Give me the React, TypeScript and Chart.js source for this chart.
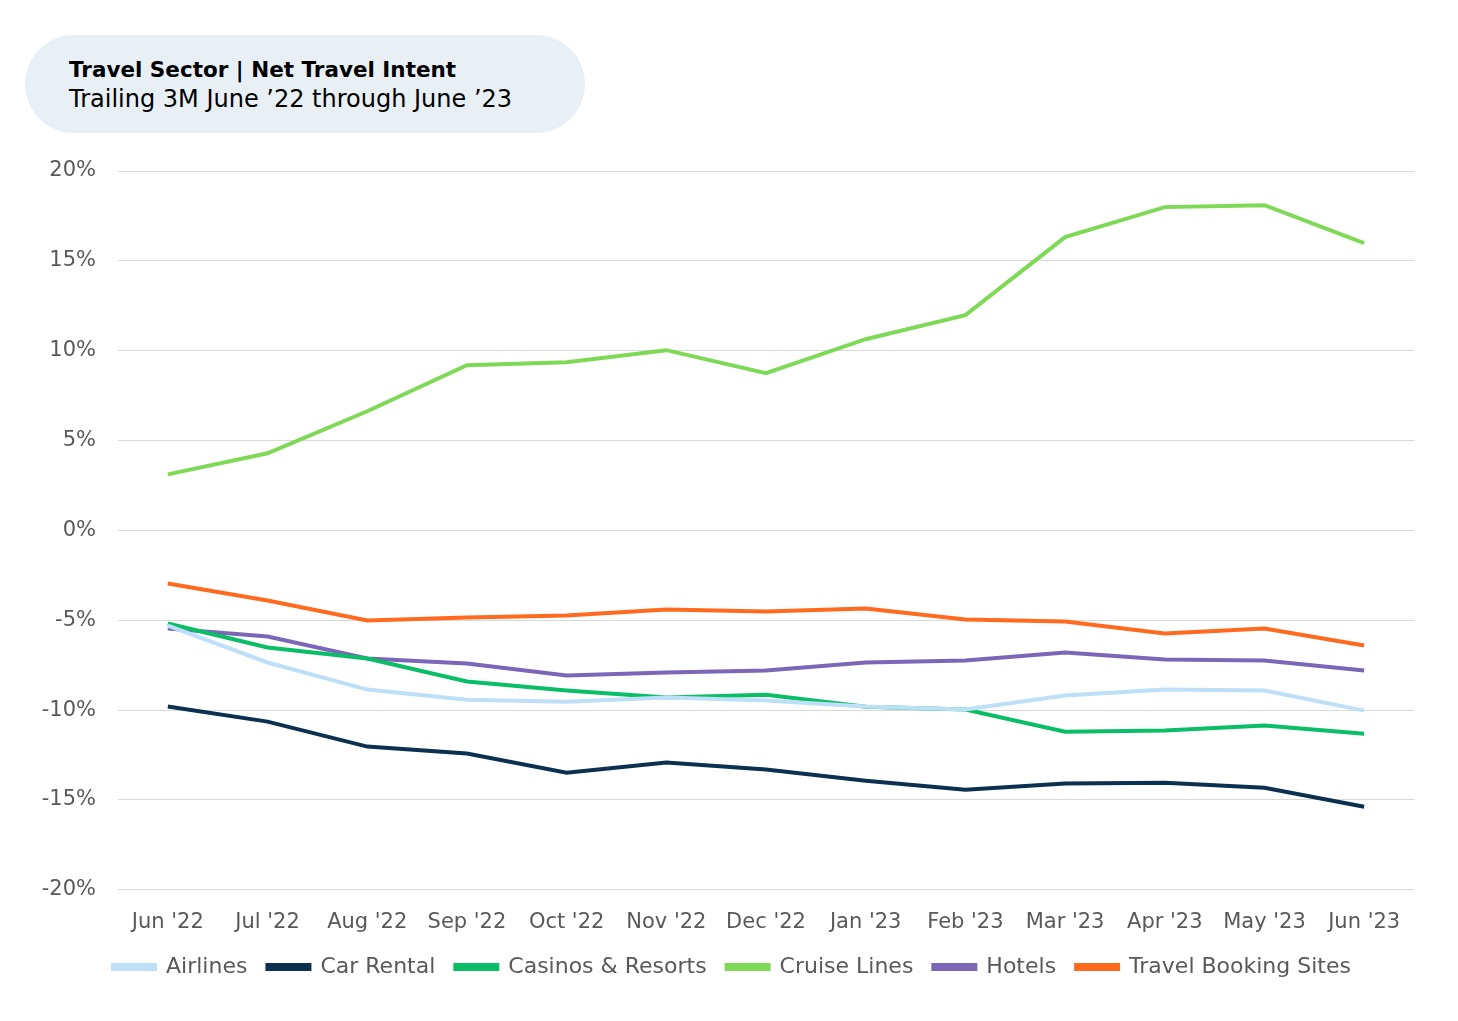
import React, { useEffect, useRef } from "react";
import { Chart, registerables } from "chart.js";

Chart.register(...registerables);

const categories = ["Jun '22", "Jul '22", "Aug '22", "Sep '22", "Oct '22", "Nov '22", "Dec '22", "Jan '23", "Feb '23", "Mar '23", "Apr '23", "May '23", "Jun '23"];

const airlines = [-5.3, -7.35, -8.86, -9.42, -9.53, -9.3, -9.47, -9.8, -9.97, -9.19, -8.86, -8.91, -10.03];
const carRental = [-9.8, -10.64, -12.03, -12.42, -13.48, -12.92, -13.31, -13.93, -14.43, -14.09, -14.04, -14.32, -15.38];
const casinos = [-5.18, -6.52, -7.13, -8.41, -8.91, -9.3, -9.14, -9.81, -9.97, -11.2, -11.14, -10.86, -11.31];
const cruise = [3.12, 4.29, 6.63, 9.19, 9.36, 10.03, 8.75, 10.64, 11.98, 16.32, 17.99, 18.1, 15.99];
const hotels = [-5.46, -5.9, -7.13, -7.41, -8.08, -7.91, -7.8, -7.35, -7.24, -6.8, -7.19, -7.24, -7.8];
const travelBooking = [-2.95, -3.9, -5.01, -4.85, -4.74, -4.4, -4.51, -4.35, -4.96, -5.07, -5.74, -5.46, -6.41];

const seriesNames = ["Airlines", "Car Rental", "Casinos & Resorts", "Cruise Lines", "Hotels", "Travel Booking Sites"];
const seriesColors = ["#bddff8", "#0c3050", "#0abd67", "#7ed957", "#7b66b8", "#ff6a1f"];

const titleText = "Travel Sector | Net Travel Intent";
const subtitleText = "Trailing 3M June \u201922 through June \u201923";

export default function App() {
  const canvasRef = useRef<HTMLCanvasElement | null>(null);

  useEffect(() => {
    const ctx = canvasRef.current;
    if (!ctx) return;
    const values = [airlines, carRental, casinos, cruise, hotels, travelBooking];
    const chart = new Chart(ctx, {
      type: "line",
      data: {
        labels: categories,
        datasets: values.map((v, i) => ({
          label: seriesNames[i],
          data: v,
          borderColor: seriesColors[i],
          backgroundColor: seriesColors[i],
          borderWidth: 4,
          pointRadius: 0,
          tension: 0,
          fill: false,
          yAxisID: "y",
        })),
      },
      options: {
        responsive: false,
        animation: false,
        layout: { padding: { top: 171, right: 24, left: 30, bottom: 33 } },
        plugins: {
          title: { display: false },
          tooltip: { enabled: false },
          legend: {
            position: "bottom",
            labels: {
              boxWidth: 42,
              boxHeight: 4,
              padding: 20,
              color: "#595959",
              font: { family: "DejaVu Sans", size: 22 },
            },
          },
        },
        scales: {
          x: {
            offset: true,
            grid: { display: false },
            border: { display: false },
            afterFit: (scale: any) => {
              scale.height = scale.height - 11;
            },
            ticks: {
              color: "#595959",
              font: { family: "DejaVu Sans", size: 21 },
              maxRotation: 0,
              autoSkip: false,
              padding: 12,
            },
          },
          y: {
            min: -20,
            max: 20,
            grid: { color: "#d9d9d9", lineWidth: 1, drawTicks: false },
            border: { display: false },
            afterFit: (scale: any) => {
              scale.width = 88;
            },
            ticks: {
              stepSize: 5,
              color: "#595959",
              font: { family: "DejaVu Sans", size: 21 },
              padding: 22,
              callback: (v: any) => `${v}%`,
            },
          },
          y2: {
            type: "linear",
            position: "right",
            display: true,
            grid: { display: false },
            border: { display: false },
            ticks: { display: false },
            afterFit: (scale: any) => {
              scale.width = 20;
            },
          },
        },
      },
    });
    return () => chart.destroy();
  }, []);

  return (
    <div style={{ position: "fixed", left: 0, top: 0, width: 1458, height: 1021, background: "#fff" }}>
      <canvas ref={canvasRef} width={1458} height={1021} style={{ position: "absolute", left: 0, top: 0 }} />
      <div
        style={{
          position: "absolute",
          left: 25,
          top: 35,
          width: 560,
          height: 98,
          borderRadius: 49,
          background: "#e8eff5",
          boxSizing: "border-box",
          paddingLeft: 44,
          paddingTop: 21,
          fontFamily: "DejaVu Sans, sans-serif",
          color: "#000",
        }}
      >
        <div style={{ fontWeight: "bold", fontSize: 21.5, lineHeight: "28px" }}>{titleText}</div>
        <div style={{ fontSize: 24, lineHeight: "31px" }}>{subtitleText}</div>
      </div>
    </div>
  );
}
